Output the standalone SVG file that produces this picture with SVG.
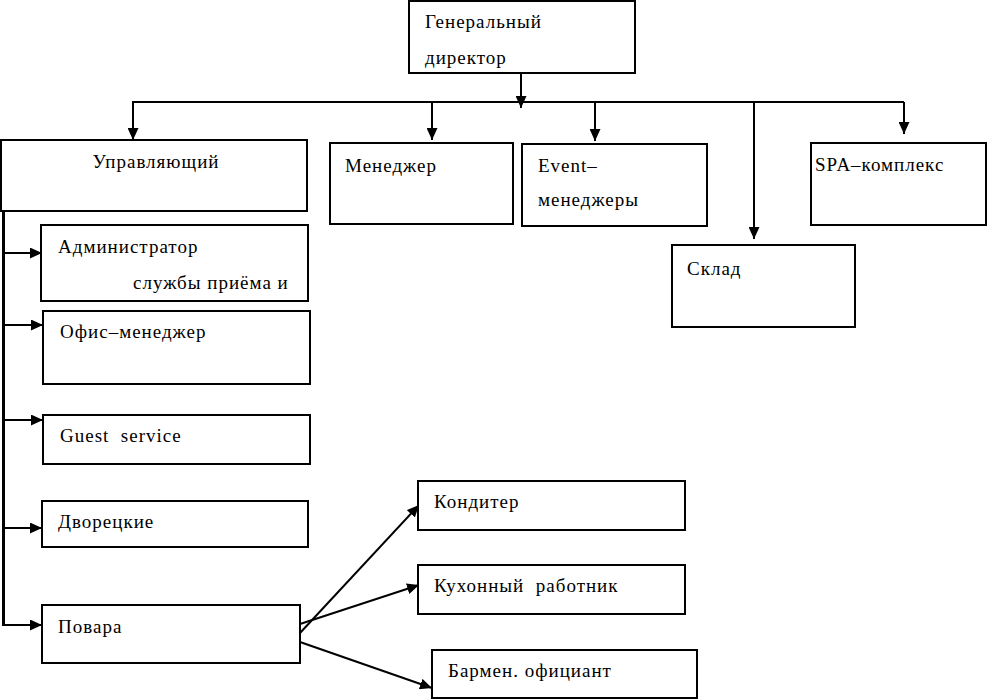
<svg xmlns="http://www.w3.org/2000/svg" width="987" height="700" viewBox="0 0 987 700">
<style>
.box{fill:#fff;stroke:#000;stroke-width:2}
.t{font-family:"Liberation Serif","Times New Roman",serif;font-size:19px;letter-spacing:1px;fill:#000}
.c{fill:none;stroke:#000;stroke-width:2}
.a{marker-end:url(#ah)}
</style>
<defs>
<marker id="ah" markerUnits="userSpaceOnUse" markerWidth="12" markerHeight="11" refX="12" refY="5.5" orient="auto" viewBox="0 0 12 11">
<path d="M0,0 L12,5.5 L0,11 z" fill="#000"/>
</marker>
</defs>
<rect width="987" height="700" fill="#fff"/>
<g id="connectors">
<line class="c a" x1="521" y1="73" x2="521" y2="108"/>
<line class="c" x1="132" y1="102" x2="904" y2="102"/>
<line class="c a" x1="133" y1="102" x2="133" y2="140"/>
<line class="c a" x1="432" y1="102" x2="432" y2="140"/>
<line class="c a" x1="595" y1="102" x2="595" y2="141"/>
<line class="c a" x1="754" y1="102" x2="754" y2="239"/>
<line class="c a" x1="904" y1="102" x2="904" y2="134"/>
<line x1="3.5" y1="203" x2="3.5" y2="626" stroke="#000" stroke-width="3"/>
<line class="c a" x1="3" y1="253" x2="42" y2="253"/>
<line class="c a" x1="3" y1="325" x2="43" y2="325"/>
<line class="c a" x1="3" y1="420" x2="43" y2="420"/>
<line class="c a" x1="3" y1="528" x2="42" y2="528"/>
<line class="c a" x1="3" y1="625" x2="42" y2="625"/>
<line class="c a" x1="300" y1="633" x2="419" y2="505"/>
<line class="c a" x1="300" y1="624" x2="419" y2="585"/>
<line class="c a" x1="300" y1="642" x2="432" y2="688"/>
</g>
<g id="gen-director">
<rect class="box" x="409" y="1" width="226" height="72"/>
<text class="t" x="425" y="28">Генеральный</text>
<text class="t" x="425" y="64">директор</text>
</g>
<g id="upravl">
<rect class="box" x="1" y="140" width="306" height="71"/>
<text class="t" x="156" y="168" text-anchor="middle">Управляющий</text>
</g>
<g id="manager">
<rect class="box" x="330" y="143" width="183" height="81"/>
<text class="t" x="345" y="172">Менеджер</text>
</g>
<g id="event">
<rect class="box" x="522" y="144" width="185" height="82"/>
<text class="t" x="538" y="172">Event–</text>
<text class="t" x="538" y="206">менеджеры</text>
</g>
<g id="spa">
<rect class="box" x="811" y="143" width="175" height="82"/>
<text class="t" x="815" y="171">SPA–комплекс</text>
</g>
<g id="sklad">
<rect class="box" x="672" y="245" width="183" height="82"/>
<text class="t" x="687" y="275">Склад</text>
</g>
<g id="admin">
<rect class="box" x="41" y="225" width="267" height="76"/>
<text class="t" x="58" y="253">Администратор</text>
<text class="t" x="133" y="289">службы приёма и</text>
</g>
<g id="office">
<rect class="box" x="43" y="311" width="267" height="73"/>
<text class="t" x="60" y="338">Офис–менеджер</text>
</g>
<g id="guest">
<rect class="box" x="43" y="415" width="267" height="49"/>
<text class="t" x="60" y="442">Guest&#160; service</text>
</g>
<g id="butlers">
<rect class="box" x="42" y="501" width="266" height="46"/>
<text class="t" x="58" y="528">Дворецкие</text>
</g>
<g id="cooks">
<rect class="box" x="42" y="605" width="258" height="58"/>
<text class="t" x="58" y="633">Повара</text>
</g>
<g id="konditer">
<rect class="box" x="418" y="481" width="267" height="49"/>
<text class="t" x="434" y="508">Кондитер</text>
</g>
<g id="kitchen">
<rect class="box" x="418" y="565" width="267" height="49"/>
<text class="t" x="434" y="592">Кухонный&#160; работник</text>
</g>
<g id="barmen">
<rect class="box" x="432" y="650" width="265" height="48"/>
<text class="t" x="448" y="677">Бармен. официант</text>
</g>
</svg>
